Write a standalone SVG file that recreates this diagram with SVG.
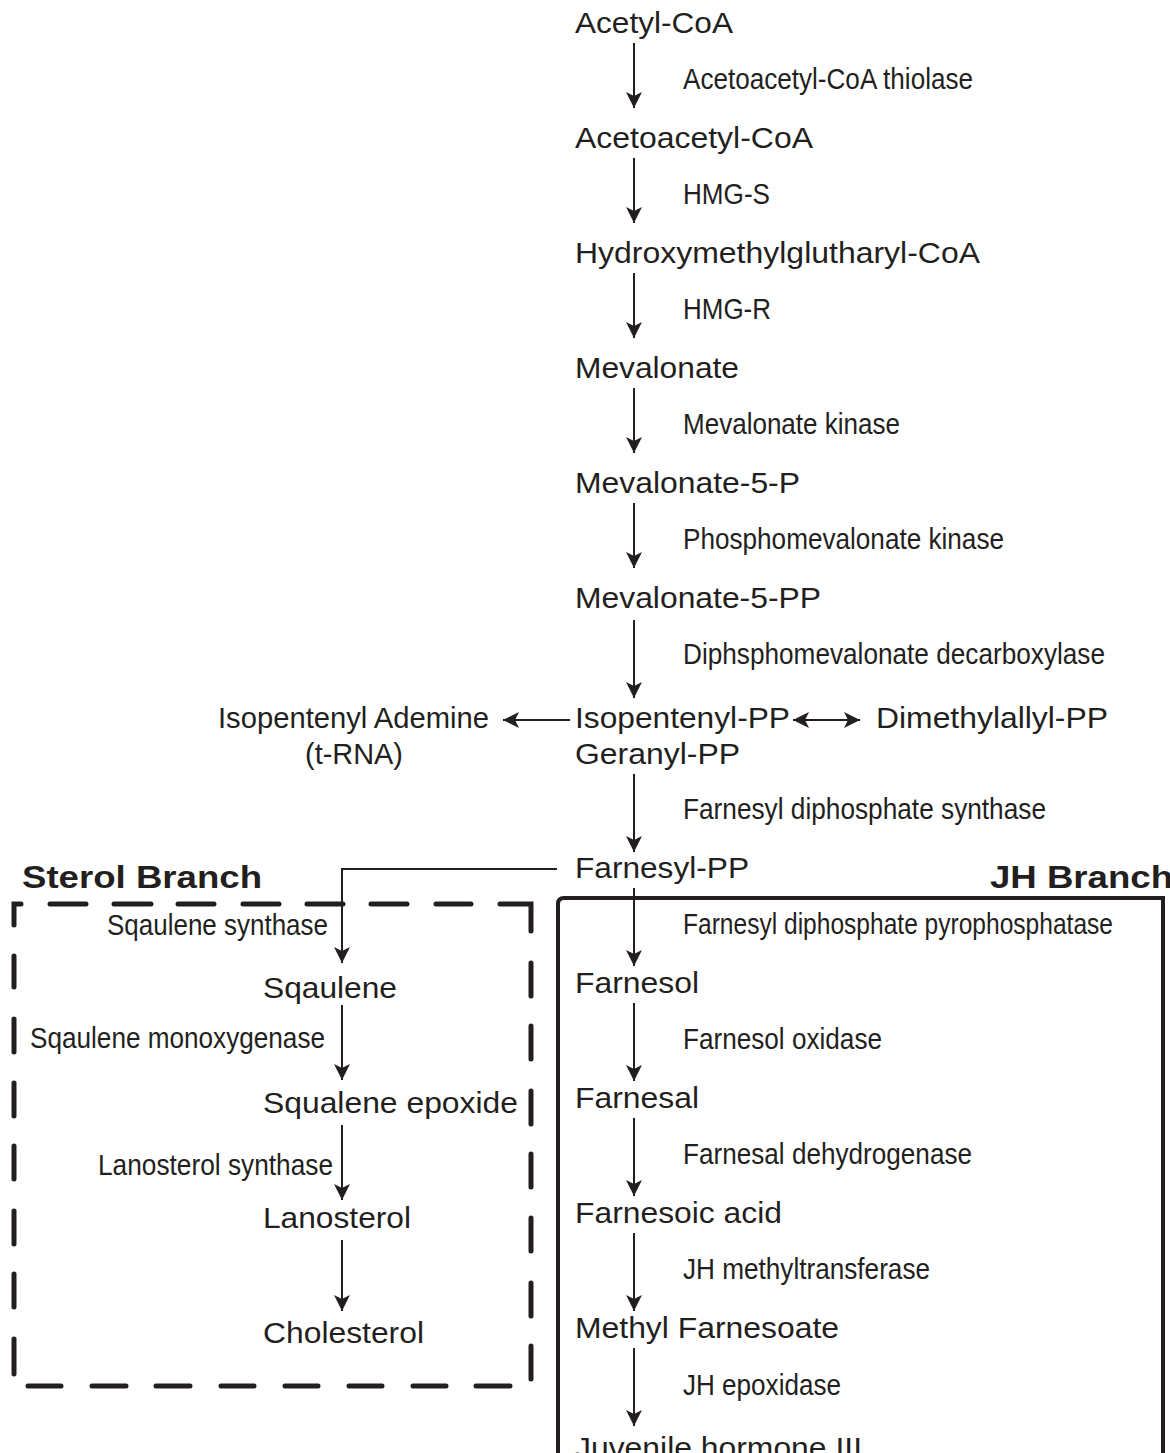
<svg xmlns="http://www.w3.org/2000/svg" width="1170" height="1453" viewBox="0 0 1170 1453">
<style>
.n{font-family:"Liberation Sans",Arial,sans-serif;font-size:30px;fill:#231f20}
.e{font-family:"Liberation Sans",Arial,sans-serif;font-size:29px;fill:#231f20}
.b{font-family:"Liberation Sans",Arial,sans-serif;font-size:31px;font-weight:bold;fill:#231f20}
.c{fill:none;stroke:#231f20;stroke-width:2}
.dash{fill:none;stroke:#231f20;stroke-width:5;stroke-linecap:round;stroke-linejoin:miter}
.solid{fill:none;stroke:#231f20;stroke-width:4}
</style>
<defs>
<marker id="ah" viewBox="0 0 16 16" refX="16" refY="8" markerWidth="16" markerHeight="16" markerUnits="userSpaceOnUse" orient="auto-start-reverse">
<path d="M0,0 L16,8 L0,16 L4,8 z" fill="#231f20"/>
</marker>
</defs>
<rect width="1170" height="1453" fill="#ffffff"/>

<g id="sterol-box">
<path class="dash" d="M14,925 V904 H21 M50,904 H86 M114,904 H151 M178,904 H214 M243,904 H279 M307,904 H343 M371,904 H407 M436,904 H471 M500,904 H531 V931 M14,956 V987 M14,1019 V1052 M14,1083 V1116 M14,1146 V1179 M14,1211 V1244 M14,1274 V1307 M14,1339 V1374 M28,1386 H61 M92,1386 H126 M156,1386 H190 M221,1386 H254 M285,1386 H318 M349,1386 H382 M413,1386 H446 M476,1386 H510 M531,963 V996 M531,1026 V1059 M531,1091 V1124 M531,1154 V1187 M531,1218 V1251 M531,1283 V1316 M531,1346 V1379"/>
<text class="b" x="22" y="888" textLength="240" lengthAdjust="spacingAndGlyphs">Sterol Branch</text>
</g>
<g id="jh-box">
<path class="solid" d="M558,1460 V904 Q558,898 564,898 H1163 V1460"/>
<text class="b" x="990" y="888" textLength="183" lengthAdjust="spacingAndGlyphs">JH Branch</text>
</g>

<g id="connectors">
<line class="c" x1="634" y1="43" x2="634" y2="108" marker-end="url(#ah)"/>
<line class="c" x1="634" y1="158" x2="634" y2="223" marker-end="url(#ah)"/>
<line class="c" x1="634" y1="273" x2="634" y2="338" marker-end="url(#ah)"/>
<line class="c" x1="634" y1="388" x2="634" y2="453" marker-end="url(#ah)"/>
<line class="c" x1="634" y1="503" x2="634" y2="568" marker-end="url(#ah)"/>
<line class="c" x1="634" y1="620" x2="634" y2="698" marker-end="url(#ah)"/>
<line class="c" x1="634" y1="774" x2="634" y2="852" marker-end="url(#ah)"/>
<line class="c" x1="634" y1="888" x2="634" y2="966" marker-end="url(#ah)"/>
<line class="c" x1="634" y1="1003" x2="634" y2="1081" marker-end="url(#ah)"/>
<line class="c" x1="634" y1="1118" x2="634" y2="1196" marker-end="url(#ah)"/>
<line class="c" x1="634" y1="1233" x2="634" y2="1311" marker-end="url(#ah)"/>
<line class="c" x1="634" y1="1348" x2="634" y2="1426" marker-end="url(#ah)"/>
<line class="c" x1="570" y1="720" x2="503" y2="720" marker-end="url(#ah)"/>
<line class="c" x1="793" y1="720" x2="860" y2="720" marker-start="url(#ah)" marker-end="url(#ah)"/>
<path class="c" d="M557,869 H342 V963" marker-end="url(#ah)"/>
<line class="c" x1="342" y1="1005" x2="342" y2="1080" marker-end="url(#ah)"/>
<line class="c" x1="342" y1="1125" x2="342" y2="1200" marker-end="url(#ah)"/>
<line class="c" x1="342" y1="1240" x2="342" y2="1311" marker-end="url(#ah)"/>
</g>

<g id="node-acetylcoa"><text class="n" x="575" y="33" textLength="158" lengthAdjust="spacingAndGlyphs">Acetyl-CoA</text></g>
<g id="enz-thiolase"><text class="e" x="683" y="89" textLength="290" lengthAdjust="spacingAndGlyphs">Acetoacetyl-CoA thiolase</text></g>
<g id="node-acetoacetylcoa"><text class="n" x="575" y="148" textLength="238" lengthAdjust="spacingAndGlyphs">Acetoacetyl-CoA</text></g>
<g id="enz-hmgs"><text class="e" x="683" y="204" textLength="87" lengthAdjust="spacingAndGlyphs">HMG-S</text></g>
<g id="node-hmgcoa"><text class="n" x="575" y="263" textLength="405" lengthAdjust="spacingAndGlyphs">Hydroxymethylglutharyl-CoA</text></g>
<g id="enz-hmgr"><text class="e" x="683" y="319" textLength="88" lengthAdjust="spacingAndGlyphs">HMG-R</text></g>
<g id="node-mevalonate"><text class="n" x="575" y="378" textLength="164" lengthAdjust="spacingAndGlyphs">Mevalonate</text></g>
<g id="enz-mk"><text class="e" x="683" y="434" textLength="217" lengthAdjust="spacingAndGlyphs">Mevalonate kinase</text></g>
<g id="node-mev5p"><text class="n" x="575" y="493" textLength="225" lengthAdjust="spacingAndGlyphs">Mevalonate-5-P</text></g>
<g id="enz-pmk"><text class="e" x="683" y="549" textLength="321" lengthAdjust="spacingAndGlyphs">Phosphomevalonate kinase</text></g>
<g id="node-mev5pp"><text class="n" x="575" y="608" textLength="246" lengthAdjust="spacingAndGlyphs">Mevalonate-5-PP</text></g>
<g id="enz-dmd"><text class="e" x="683" y="664" textLength="422" lengthAdjust="spacingAndGlyphs">Diphsphomevalonate decarboxylase</text></g>
<g id="node-ipp"><text class="n" x="575" y="728" textLength="215" lengthAdjust="spacingAndGlyphs">Isopentenyl-PP</text></g>
<g id="node-gpp"><text class="n" x="575" y="764" textLength="165" lengthAdjust="spacingAndGlyphs">Geranyl-PP</text></g>
<g id="node-ipa"><text class="n" x="218" y="728" textLength="271" lengthAdjust="spacingAndGlyphs">Isopentenyl Ademine</text><text class="n" x="305" y="764" textLength="98" lengthAdjust="spacingAndGlyphs">(t-RNA)</text></g>
<g id="node-dmapp"><text class="n" x="876" y="728" textLength="232" lengthAdjust="spacingAndGlyphs">Dimethylallyl-PP</text></g>
<g id="enz-fds"><text class="e" x="683" y="819" textLength="363" lengthAdjust="spacingAndGlyphs">Farnesyl diphosphate synthase</text></g>
<g id="node-fpp"><text class="n" x="575" y="878" textLength="174" lengthAdjust="spacingAndGlyphs">Farnesyl-PP</text></g>
<g id="enz-fdpp"><text class="e" x="683" y="934" textLength="430" lengthAdjust="spacingAndGlyphs">Farnesyl diphosphate pyrophosphatase</text></g>
<g id="node-farnesol"><text class="n" x="575" y="993" textLength="124" lengthAdjust="spacingAndGlyphs">Farnesol</text></g>
<g id="enz-fo"><text class="e" x="683" y="1049" textLength="199" lengthAdjust="spacingAndGlyphs">Farnesol oxidase</text></g>
<g id="node-farnesal"><text class="n" x="575" y="1108" textLength="124" lengthAdjust="spacingAndGlyphs">Farnesal</text></g>
<g id="enz-fd"><text class="e" x="683" y="1164" textLength="289" lengthAdjust="spacingAndGlyphs">Farnesal dehydrogenase</text></g>
<g id="node-fa"><text class="n" x="575" y="1223" textLength="207" lengthAdjust="spacingAndGlyphs">Farnesoic acid</text></g>
<g id="enz-jhmt"><text class="e" x="683" y="1279" textLength="247" lengthAdjust="spacingAndGlyphs">JH methyltransferase</text></g>
<g id="node-mf"><text class="n" x="575" y="1338" textLength="264" lengthAdjust="spacingAndGlyphs">Methyl Farnesoate</text></g>
<g id="enz-jhe"><text class="e" x="683" y="1395" textLength="158" lengthAdjust="spacingAndGlyphs">JH epoxidase</text></g>
<g id="node-jh3"><text class="n" x="575" y="1458" textLength="287" lengthAdjust="spacingAndGlyphs">Juvenile hormone III</text></g>

<g id="enz-ss"><text class="e" x="107" y="935" textLength="221" lengthAdjust="spacingAndGlyphs">Sqaulene synthase</text></g>
<g id="node-squalene"><text class="n" x="263" y="998" textLength="134" lengthAdjust="spacingAndGlyphs">Sqaulene</text></g>
<g id="enz-sm"><text class="e" x="30" y="1048" textLength="295" lengthAdjust="spacingAndGlyphs">Sqaulene monoxygenase</text></g>
<g id="node-se"><text class="n" x="263" y="1113" textLength="255" lengthAdjust="spacingAndGlyphs">Squalene epoxide</text></g>
<g id="enz-ls"><text class="e" x="98" y="1175" textLength="235" lengthAdjust="spacingAndGlyphs">Lanosterol synthase</text></g>
<g id="node-lanosterol"><text class="n" x="263" y="1228" textLength="148" lengthAdjust="spacingAndGlyphs">Lanosterol</text></g>
<g id="node-cholesterol"><text class="n" x="263" y="1343" textLength="161" lengthAdjust="spacingAndGlyphs">Cholesterol</text></g>
</svg>
